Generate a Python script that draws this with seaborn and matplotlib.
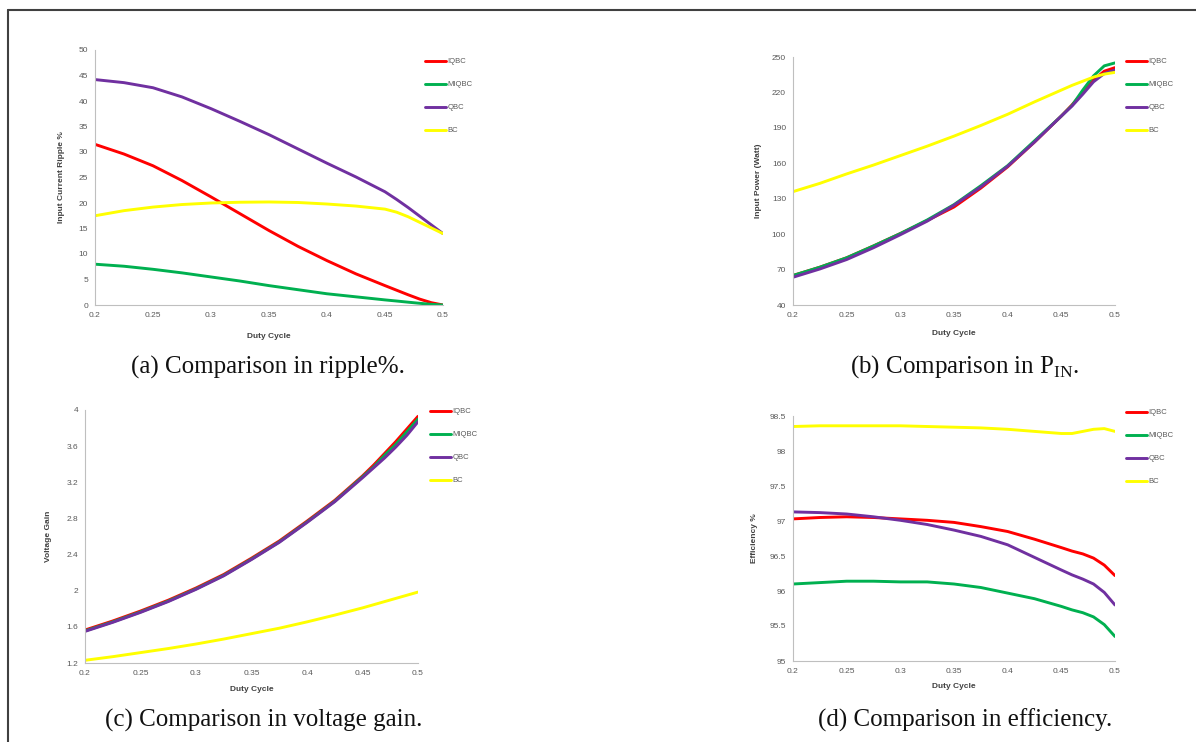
import pandas as pd
import matplotlib.pyplot as plt
import seaborn as sns
from matplotlib.lines import Line2D

# Duty cycle points
duty = [0.2, 0.225, 0.25, 0.275, 0.3, 0.325, 0.35, 0.375, 0.4, 0.425,
        0.45, 0.46, 0.47, 0.48, 0.49, 0.5]
series_names = ["IQBC", "MIQBC", "QBC", "BC"]
colors = ["#ff0000", "#00b050", "#7030a0", "#ffff00"]

# (a) input current ripple %
ripple_iqbc = [31.5, 29.6, 27.3, 24.4, 21.2, 17.9, 14.6, 11.5, 8.7, 6.1, 3.8, 2.9, 2.0, 1.15, 0.45, 0.0]
ripple_miqbc = [8.0, 7.6, 7.0, 6.3, 5.5, 4.7, 3.8, 3.0, 2.2, 1.6, 1.0, 0.78, 0.55, 0.33, 0.13, 0.0]
ripple_qbc = [44.2, 43.6, 42.6, 40.8, 38.5, 36.0, 33.4, 30.6, 27.8, 25.1, 22.2, 20.7, 19.1, 17.4, 15.7, 14.0]
ripple_bc = [17.5, 18.5, 19.2, 19.7, 20.0, 20.15, 20.2, 20.1, 19.8, 19.4, 18.8, 18.2, 17.3, 16.2, 15.1, 14.0]

# (b) input power (Watt)
pin_iqbc = [65, 72, 80, 90, 100.5, 111.5, 123, 139, 157, 178, 200, 209.5, 220, 230.5, 238, 241]
pin_miqbc = [65, 72, 80, 90, 100.5, 112, 125, 141, 158, 179, 200, 209, 222, 234, 242.5, 245]
pin_qbc = [63.5, 70.5, 78.5, 88.5, 99.5, 111, 124.5, 140, 157.5, 178, 200, 208.5, 218.5, 229, 236, 239]
pin_bc = [136, 143, 151, 158.5, 166.5, 174.5, 183, 192, 201.5, 212, 222, 226, 229.5, 233, 235.5, 237]

# (c) voltage gain
gain_iqbc = [1.565, 1.665, 1.775, 1.895, 2.03, 2.18, 2.36, 2.55, 2.77, 3.0, 3.27, 3.39, 3.52, 3.65, 3.79, 3.93]
gain_miqbc = [1.555, 1.655, 1.765, 1.885, 2.02, 2.17, 2.35, 2.54, 2.76, 2.99, 3.26, 3.37, 3.50, 3.62, 3.76, 3.90]
gain_qbc = [1.55, 1.65, 1.76, 1.88, 2.015, 2.165, 2.345, 2.535, 2.755, 2.985, 3.25, 3.36, 3.47, 3.59, 3.72, 3.87]
gain_bc = [1.23, 1.27, 1.315, 1.36, 1.41, 1.465, 1.525, 1.585, 1.655, 1.73, 1.81, 1.845, 1.88, 1.915, 1.95, 1.985]

# (d) efficiency %
eff_iqbc = [97.03, 97.05, 97.06, 97.05, 97.03, 97.01, 96.98, 96.92, 96.85, 96.74, 96.62, 96.57, 96.53, 96.47, 96.37, 96.22]
eff_miqbc = [96.10, 96.12, 96.14, 96.14, 96.13, 96.13, 96.10, 96.05, 95.97, 95.89, 95.78, 95.73, 95.69, 95.63, 95.52, 95.35]
eff_qbc = [97.13, 97.12, 97.10, 97.06, 97.01, 96.95, 96.87, 96.78, 96.66, 96.48, 96.30, 96.23, 96.17, 96.10, 95.98, 95.80]
eff_bc = [98.35, 98.36, 98.36, 98.36, 98.36, 98.35, 98.34, 98.33, 98.31, 98.28, 98.25, 98.25, 98.28, 98.31, 98.32, 98.28]

x_ticks = [0.2, 0.25, 0.3, 0.35, 0.4, 0.45, 0.5]
x_tick_labels = ["0.2", "0.25", "0.3", "0.35", "0.4", "0.45", "0.5"]

sns.set_style("white")
plt.rcParams['font.family'] = ['Liberation Sans', 'DejaVu Sans']

W, H = 1196, 742
fig = plt.figure(figsize=(W / 100, H / 100), dpi=100)


def frame(px_left, px_top, px_right, px_bottom):
    return [px_left / W, 1 - px_bottom / H, (px_right - px_left) / W, (px_bottom - px_top) / H]


def make_df(values):
    rows = []
    for name, vals in zip(series_names, values):
        for d, v in zip(duty, vals):
            rows.append({"Duty": d, "Value": v, "Series": name})
    return pd.DataFrame(rows)


def panel(box, values, ylim, yticks, ytick_labels, ylabel, legend_xy, ylab_off, xlab_off, caption, cap_xy):
    ax = fig.add_axes(frame(*box))
    df = make_df(values)
    sns.lineplot(data=df, x="Duty", y="Value", hue="Series", palette=colors,
                 hue_order=series_names, linewidth=2.1, ax=ax, legend=True,
                 solid_joinstyle='round', solid_capstyle='round')
    ax.set_xlim(0.2, 0.5)
    ax.set_ylim(*ylim)
    ax.set_xticks(x_ticks)
    ax.set_xticklabels(x_tick_labels)
    ax.set_yticks(yticks)
    ax.set_yticklabels(ytick_labels)
    ax.tick_params(axis='both', labelsize=6, colors='#bfbfbf', labelcolor='#595959',
                   length=3, width=0.8, direction='out', pad=2)
    for s in ['top', 'right']:
        ax.spines[s].set_visible(False)
    for s in ['left', 'bottom']:
        ax.spines[s].set_color('#bfbfbf')
        ax.spines[s].set_linewidth(0.8)
    ax.set_xlabel("Duty Cycle", fontsize=6, fontweight='bold', color='#404040')
    ax.set_ylabel(ylabel, fontsize=6, fontweight='bold', color='#404040')
    wpx = box[2] - box[0]
    hpx = box[3] - box[1]
    ax.yaxis.set_label_coords(-ylab_off / wpx, 0.5)
    ax.xaxis.set_label_coords(0.5, -xlab_off / hpx)
    handles, labels = ax.get_legend_handles_labels()
    ax.legend(handles, labels, loc='upper left',
              bbox_to_anchor=(legend_xy[0] / W, 1 - legend_xy[1] / H),
              bbox_transform=fig.transFigure, frameon=False, fontsize=5.5,
              handlelength=2.8, handletextpad=0.1, labelspacing=2.05,
              borderpad=0, borderaxespad=0, labelcolor='#595959')
    fig.text(cap_xy[0] / W, 1 - cap_xy[1] / H, caption, ha='center', va='center',
             fontsize=18, family=['Liberation Serif', 'DejaVu Serif'], color='#111111')
    return ax


panel((95, 50, 443, 305), [ripple_iqbc, ripple_miqbc, ripple_qbc, ripple_bc],
      (0, 50), list(range(0, 55, 5)), [str(v) for v in range(0, 55, 5)],
      "Input Current Ripple %", (425, 58), 30, 28,
      "(a) Comparison in ripple%.", (268, 367))

pin_ticks = [40, 70, 100, 130, 160, 190, 220, 250]
panel((793, 57, 1115, 305), [pin_iqbc, pin_miqbc, pin_qbc, pin_bc],
      (40, 250), pin_ticks, [str(v) for v in pin_ticks],
      "Input Power (Watt)", (1126, 58), 31, 25,
      r"(b) Comparison in P$_{\mathregular{IN}}$.", (965, 367))

gain_ticks = [1.2, 1.6, 2.0, 2.4, 2.8, 3.2, 3.6, 4.0]
gain_labels = ["1.2", "1.6", "2", "2.4", "2.8", "3.2", "3.6", "4"]
panel((85, 410, 418, 663), [gain_iqbc, gain_miqbc, gain_qbc, gain_bc],
      (1.2, 4.0), gain_ticks, gain_labels,
      "Voltage Gain", (430, 408), 33, 23,
      "(c) Comparison in voltage gain.", (264, 720))

eff_ticks = [95, 95.5, 96, 96.5, 97, 97.5, 98, 98.5]
eff_labels = ["95", "95.5", "96", "96.5", "97", "97.5", "98", "98.5"]
panel((793, 416, 1115, 661), [eff_iqbc, eff_miqbc, eff_qbc, eff_bc],
      (95, 98.5), eff_ticks, eff_labels,
      "Efficiency %", (1126, 409), 35, 22,
      "(d) Comparison in efficiency.", (965, 720))

# page frame lines from the source document
fig.add_artist(Line2D([8 / W, 1.0], [1 - 10 / H, 1 - 10 / H], color='#404040', lw=1.5))
fig.add_artist(Line2D([8 / W, 8 / W], [0.0, 1 - 10 / H], color='#404040', lw=1.5))

fig.savefig("out.png", dpi=100, facecolor='white')
